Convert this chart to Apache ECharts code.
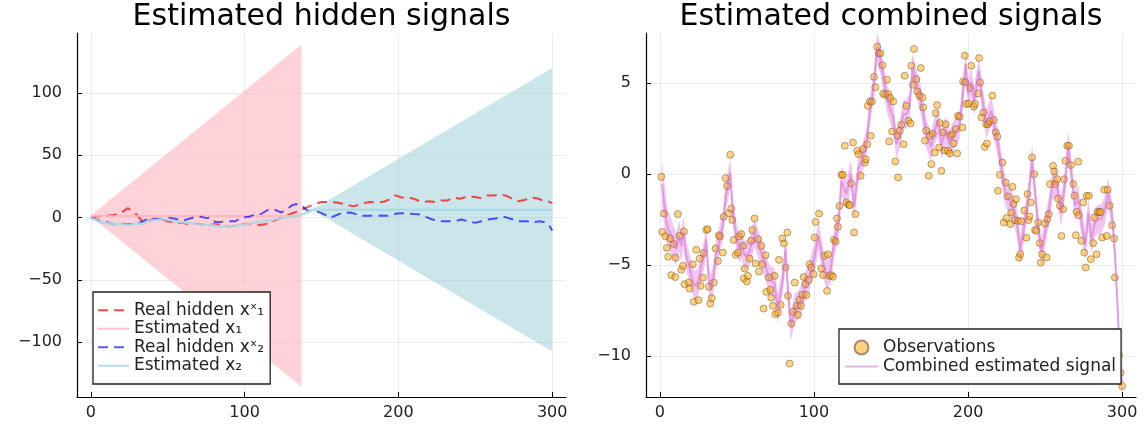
<!DOCTYPE html>
<html><head><meta charset="utf-8">
<script src="https://cdn.jsdelivr.net/npm/echarts@6/dist/echarts.min.js"></script>
<style>html,body{margin:0;padding:0;background:#fff}#c{width:1147px;height:427px}</style>
</head><body><div id="c"></div>
<script>
// ---------- left panel: hidden signals ----------
const hidden1X = [0,5,10,15,20,24,27,30,34,40,45,50,55,60,65,70,75,80,85,90,95,100,105,110,115,120,125,130,135,141,146,150,156,160,163,167,171,176,181,186,191,195,198,202,206,210,215,220,224,228,232,236,240,245,250,254,258,262,266,270,274,278,282,286,290,293,297,300];
const hidden1Y = [0,1,1.3,2,4,7.5,5,2,-3.8,-1.5,-1,-3,-4,-4.5,-5.5,-5,-6.5,-5.5,-6,-7,-6.5,-5,-5.5,-6,-5,-2,0,3,5,8.3,11,12.4,12.4,12,11.3,10,8.9,11,12.4,12,12.8,15,17.7,16,16.3,15,12.4,13,12.4,13.7,13.7,16,15,16.8,16.5,15.5,17.7,17.7,18.5,17.5,15,13,14,16,15.5,14,13,11.5];
const hidden2X = [0,3,6,10,15,20,26,32,37,43,48,50,55,59,64,68,72,75,78,81,85,88,94,98,103,107,111,115,120,124,128,131,135,137,141,146,150,156,160,163,169,176,182,188,193,199,203,206,211,215,218,222,228,234,238,241,245,250,254,258,263,269,273,278,283,288,292,295,298,300];
const hidden2Y = [0,-1.5,-2.7,-3.5,-5.4,-5,-5.4,-4,-1.3,-1,-1.3,0,-1,-2.7,-1,0.5,0.5,-0.5,0,-3.8,-3.5,-3,-3,0,0.5,2.7,3,6,6,4,7,10,11,9.5,5.4,5.4,3.5,0,2,3.5,4,1.3,1.3,1.5,1.3,3.2,3.5,3.2,2.7,2.2,0.5,-1.6,-3,-3,-2.5,-1.6,-3,-4.3,-3,-1.6,-0.8,0.5,-1,-3,-3,-3.8,-3,-3.8,-6,-10.5];
const est1X = [0,137];
const est1Y = [1.2,1.2];
const est2X = [0,3,6,10,15,20,26,30,34,37,42,48,53,59,65,70,75,80,85,90,94,98,103,107,111,115,120,124,128,133,137,141,144,300];
const est2Y = [0,-2,-3.8,-4.5,-5,-5.5,-6,-4.6,-5.5,-3,-2,-1.3,-2.5,-3.8,-4.5,-5.4,-5.8,-6.5,-7.5,-7,-6.8,-5.9,-5,-3.8,-3,-2.5,-1.5,-0.5,0,1.3,2.5,4,6.3,6.3];
const band1X = [0,137];
const band1Lo = [0.8,-135.7];
const band1Hi = [1.6,138.7];
const band2X = [144,300];
const band2Lo = [6.3,-107.6];
const band2Hi = [6.3,120];
const leftXTicks = [0,100,200,300];
const leftYTicks = [-100,-50,0,50,100];

// ---------- right panel: combined signal ----------
const obsT = [1,1.5,2.6,3.7,4.6,5.4,6.7,7.4,9,10,10.2,11.7,12.8,13.9,15,15.6,16,18.8,19.3,21.4,22,23.6,25,25.8,26.4,27.9,28.4,30.1,31,31.8,32.7,33.6,35,36.2,37.7,38.3,39,40.9,41.4,42.7,43.6,44.8,45.7,46.3,47,47.9,49.2,50.7,51.4,
52.8,53.9,54.5,55,56.5,57.2,58.2,59.3,60,61.5,62.1,63.7,64.3,65.8,66.5,67.3,68.6,69.1,70.8,71.7,72.3,73.4,74.5,75,76.6,77.3,78.4,79.5,80.6,81.6,82.7,83.1,84.2,85.3,86.4,87.5,89,89.6,90.7,91.5,92.5,93.3,94.4,95.1,96.6,97.2,98.3,99.8,100.4,101.1,103.3,104.8,105.9,107,108.5,109.1,110,111.3,112.4,113,114.1,115,115.6,116.5,
117.8,118.8,120,121,122.5,123.3,124.2,125.3,126,126.9,128,129,130.3,131.8,133,133.6,134.6,135,136.3,136.8,137.6,139,139.9,141,142,143.1,144.4,144.9,146.3,147.4,148.2,148.8,149.5,150.7,151.4,152.8,154.2,154.6,155.7,156.7,158.2,158.9,160,161.4,162.7,163.2,164.3,164.9,166.4,167.1,168.6,169.3,170.4,170.9,172,172.8,174.5,175.3,
176.2,177.1,178.4,179,180,181.2,181.6,182.7,183.8,184.9,185.5,187,188.1,188.5,189.8,190.7,192,192.9,193.5,194.6,196.4,196.8,197.9,198.2,198.8,200.4,201.4,202.1,203.7,204.5,206.5,207.2,207.9,208.7,210,210.8,211.7,212.3,212.8,213.8,215.8,216.7,218,219,219.4,220.6,222.3,223.2,224.5,225,225.8,227.5,228,228.9,229.5,230.3,231.1,232.5,233.1,233.9,234.7,236.5,237.9,238.6,239.3,239.9,240.7,241.6,242.9,243.5,244.4,245.5,246.5,247.2,248.1,249.9,251,251.5,252.4,253.2,255.2,255.9,256.7,257.8,258.5,259.6,260.6,261.7,262.4,263.2,264.4,265.5,266.8,268.3,269,269.9,270.4,271.5,271.9,273.6,274.7,275.4,276.4,277,278.4,279.7,281.2,281.9,283.4,284.1,285.2,286.2,287,288.4,290,290.6,291.9,293.5,294.8,295.3,298,299,300];
const obsY = [-0.15,-3.18,-2.17,-3.43,-4.06,-4.55,-3.54,-5.56,-3.84,-5.67,-4.6,-2.2,-3.4,-5.27,-5.05,-3.16,-6.06,-5.97,-6.3,-4.96,-7.03,-4.17,-6.94,-4.65,-6.15,-5.7,-4.35,-3.07,-3.03,-6.2,-7.13,-6.83,-5.97,-4.1,-4.78,-3.36,-3.43,-4.32,-2.35,-0.22,-0.66,-2.15,1.07,-1.9,-2.52,-3.62,-4.44,-4.32,-3.43,
-3.3,-3.95,-5.75,-5.2,-5.91,-5.6,-4.65,-3.67,-3.08,-2.44,-4.92,-3.58,-5.36,-3.95,-4.96,-7.4,-4.46,-6.48,-5.69,-6.37,-6.8,-7.25,-5.6,-7.71,-7.62,-4.72,-7.2,-3.54,-3.82,-5.14,-3.21,-6.7,-10.43,-8.23,-7.58,-5.97,-7.25,-7.75,-6.92,-7.25,-6.65,-5.66,-6.06,-6.65,-5.82,-4.96,-5.14,-5.51,-3.49,-2.63,-2.17,-5.2,-5.56,-4.5,-6.43,-4.41,-5.6,-5.56,-5.65,-3.62,-3.71,-2.44,-2.9,-1.76,
-0.04,-0.04,1.56,-1.56,-1.69,-1.71,-0.51,1.74,-3.21,-2.2,1.29,1.1,-0.09,1.38,0.64,0.82,1.65,3.76,4.0,2.11,4.0,5.36,4.78,7.02,6.65,6.65,6.0,4.44,4.37,5.2,4.41,1.8,4.19,2.35,4.0,0.7,2.11,-0.18,2.39,2.72,1.65,5.42,3.76,2.94,2.79,5.97,4.92,6.89,5.23,4.55,4.32,5.84,4.22,3.67,1.84,2.39,-0.09,2.11,
0.55,2.22,1.19,3.36,3.8,1.47,2.81,0.18,2.3,1.29,2.75,1.29,1.14,2.11,2.2,1.69,2.48,1.14,3.21,3.16,2.57,5.1,6.52,5.05,3.86,3.89,4.74,5.97,3.71,3.86,4.44,6.39,5.05,3.12,3.4,1.5,2.75,1.69,2.75,2.9,4.32,2.98,2.3,2.06,-0.92,-0.04,0.64,-2.66,-0.46,-2.42,-1.23,-2.75,-2.11,-0.7,-1.65,-2.53,-1.38,-2.57,-4.59,-4.4,-2.6,-2.0,-3.5,-1.1,-2.53,-2.33,-1.56,0.92,0,-3.07,-3.12,-2.66,-3.8,-4.87,-4.41,-2.72,-4.59,-2.48,-2.2,-0.55,0.46,0.15,-0.55,-0.28,-1.34,-1.74,-3.4,-1.93,-0.28,0.73,1.56,1.56,0.5,-0.55,-1.19,-3.36,-2.08,0.68,-2.26,-3.67,-1.56,-4.32,-5.14,-1.19,-1.19,-4.68,-3.8,-2.39,-4.41,-2.08,-2.1,-2.08,-3.49,-0.86,-3.4,-0.86,-1.74,-2.81,-3.54,-5.69,-9.97,-10.93,-11.66];
const sigT = [1.3,3,4.1,5.2,6.7,8.5,10.6,12.3,13.9,15.4,17.1,18.9,20.4,22.5,24.7,26.9,28.6,30.1,31.8,33.3,34.9,36.2,37.7,39.2,40.9,42.7,44.2,45.7,47,48.5,50,51.7,53,55,58,61.5,64,68,71,74.5,76.5,79.5,81.6,83,85,87.5,90.7,94,97,100,103,106,108.5,111,113,116,117.8,121,124,126,129,131,134,136,139,141,143,145,148,151.5,153.5,155.7,158,160,162,164,166,168.6,171,173,176,178.4,180.5,182.8,185.5,188,191,194.6,196.8,198.5,200,202,204,207,210,212,215,217.6,219.5,222,224,227,230,232.5,233.7,236,239,241.6,243.3,245.5,247.6,250,252.4,254.6,257.4,260.4,263,265,267,269.3,271.5,274,276.2,278,280,282.4,284.4,286.6,288.8,291,293.5,295.3,297,299,300];
const sigY = [-0.55,-1.74,-2.48,-3.03,-3.2,-3.67,-4.13,-3.4,-3.95,-3.2,-4.5,-5.05,-5.6,-6.15,-5.97,-5.05,-4.5,-3.58,-5.97,-6.34,-5.6,-4.5,-4.13,-3.4,-2.85,-1.19,-0.64,0.09,-1.74,-2.85,-3.58,-4.13,-3.8,-4.5,-4.3,-3.2,-3.9,-4.9,-5.8,-6.0,-7.4,-6.0,-4.1,-6.3,-8.4,-7.4,-7.1,-6.3,-5.6,-4.7,-3.4,-4.9,-5.6,-5.2,-3.8,-2.7,-0.37,-1.1,0,-1.8,0.37,0.73,1.65,3.3,4.96,6.98,6.4,5.3,4.0,3.1,1.65,2.2,3.3,3.3,3.67,5.9,5.1,4.4,3.3,2.2,1.5,2.4,2.9,1.65,2.4,1.65,2.2,2.75,4.6,6.06,4.4,5.1,4.0,5.7,3.67,2.75,3.5,2.4,1.65,0.18,-0.92,-1.47,-2.0,-3.1,-4.2,-3.1,-1.4,0.83,-0.83,-2.85,-4.3,-3.2,-2.1,-0.64,-0.46,-2.1,-0.46,1.56,0.09,-1.74,-1.38,-2.85,-3.95,-2.1,-3.6,-2.66,-2.48,-2.48,-1.93,-1.0,-2.3,-4.3,-7.25,-10.9,-11.5];
const sigW = [1.3,1.2,1.1,1.0,0.95,0.9,0.9,0.85,0.85,0.85,
0.8,0.8,0.8,0.8,0.8,0.8,0.8,0.8,0.8,0.8,
0.8,0.8,0.8,0.8,0.8,0.8,0.8,0.8,0.8,0.8,
0.8,0.8,0.8,0.8,0.8,0.8,0.8,0.8,0.8,0.8,
0.8,0.8,0.8,0.8,0.8,0.8,0.8,0.8,0.8,0.8,
0.8,0.8,0.8,0.8,0.8,0.8,0.8,0.8,0.8,0.8,
0.8,0.8,0.8,0.8,0.8,0.8,0.8,0.8,0.8,0.8,
0.8,0.8,0.8,0.8,0.8,0.8,0.8,0.8,0.8,0.8,
0.8,0.8,0.8,0.8,0.8,0.8,0.8,0.8,0.8,0.8,
0.8,0.8,0.8,0.8,0.8,0.8,0.8,0.8,0.8,0.8,
0.8,0.8,0.8,0.8,0.8,0.8,0.8,0.8,0.8,0.8,
0.8,0.8,0.8,0.8,0.8,0.8,0.8,0.8,0.8,0.8,
0.8,0.8,0.8,0.8,0.8,0.8,0.8,0.8,0.8,0.8,
0.8,0.8,0.8,0.8,0.8];
const rightXTicks = [0,100,200,300];
const rightYTicks = [-10,-5,0,5];

// ---------- chart ----------
const FONT = 'DejaVu Sans';
const chart = echarts.init(document.getElementById('c'));
const pairs = (xs, ys) => xs.map((x, i) => [x, ys[i]]);

function xAx(gi, ticks) {
  return { type: 'value', gridIndex: gi, min: -9, max: 309,
    axisLine: { show: true, onZero: false, lineStyle: { color: '#000', width: 1.2 } },
    axisTick: { show: true, inside: true, length: 5, customValues: ticks, lineStyle: { color: '#000', width: 1 } },
    axisLabel: { customValues: ticks, color: '#222', fontFamily: FONT, fontSize: 16, margin: 8 },
    splitLine: { show: false } };
}
function yAx(gi, min, max, ticks) {
  return { type: 'value', gridIndex: gi, min: min, max: max,
    axisLine: { show: true, onZero: false, lineStyle: { color: '#000', width: 1.2 } },
    axisTick: { show: true, inside: true, length: 5, customValues: ticks, lineStyle: { color: '#000', width: 1 } },
    axisLabel: { customValues: ticks, color: '#222', fontFamily: FONT, fontSize: 16, margin: 15,
      formatter: v => (v < 0 ? '\u2212' + Math.abs(v) : String(v)) },
    splitLine: { show: false } };
}
function gridLines(xt, yt) {
  return { silent: true, symbol: ['none', 'none'], z: 1, animation: false, label: { show: false },
    lineStyle: { color: 'rgba(0,0,0,0.08)', width: 1, type: 'solid' },
    data: xt.map(v => ({ xAxis: v })).concat(yt.map(v => ({ yAxis: v }))) };
}
// ribbon drawn as a polygon through the axis scales (api.coord)
function ribbon(name, gi, xs, lo, hi, color) {
  return { type: 'custom', name: name, xAxisIndex: gi, yAxisIndex: gi, silent: true, animation: false,
    data: [[xs[0], lo[0]]],
    renderItem: function (params, api) {
      const top = xs.map((x, i) => api.coord([x, hi[i]]));
      const bot = xs.map((x, i) => api.coord([x, lo[i]])).reverse();
      return { type: 'polygon', shape: { points: top.concat(bot) }, style: { fill: color } };
    } };
}
const noSym = { type: 'line', showSymbol: false, symbol: 'none', animation: false };
const hideSym = { opacity: 0 };

const option = {
  animation: false,
  grid: [
    { left: 77, top: 33, width: 489, height: 364 },
    { left: 646, top: 33, width: 490, height: 364 }
  ],
  xAxis: [xAx(0, leftXTicks), xAx(1, rightXTicks)],
  yAxis: [yAx(0, -144, 148, leftYTicks), yAx(1, -12.27, 7.77, rightYTicks)],
  graphic: [
    { type: 'text', x: 321.5, y: 17, style: { text: 'Estimated hidden signals', fontSize: 30, fontFamily: FONT, fill: '#000', align: 'center', verticalAlign: 'middle' } },
    { type: 'text', x: 891, y: 17, style: { text: 'Estimated combined signals', fontSize: 30, fontFamily: FONT, fill: '#000', align: 'center', verticalAlign: 'middle' } }
  ],
  legend: [
    { orient: 'vertical', left: 93, top: 292, padding: [9, 6, 9, 4], itemGap: 0, itemWidth: 31, itemHeight: 10,
      borderColor: '#222', borderWidth: 1.3, backgroundColor: '#fff',
      textStyle: { fontFamily: FONT, fontSize: 17, color: '#222', lineHeight: 18.5 },
      data: [
        { name: 'Real hidden x\u02E3\u2081', itemStyle: hideSym },
        { name: 'Estimated x\u2081', itemStyle: hideSym },
        { name: 'Real hidden x\u02E3\u2082', itemStyle: hideSym },
        { name: 'Estimated x\u2082', itemStyle: hideSym }
      ] },
    { orient: 'vertical', left: 839, top: 329, padding: [9, 5, 8, 5], itemGap: 0, itemWidth: 33, itemHeight: 14,
      borderColor: '#222', borderWidth: 1.3, backgroundColor: '#fff',
      textStyle: { fontFamily: FONT, fontSize: 17, color: '#222', lineHeight: 19 },
      data: [{ name: 'Observations', icon: 'circle' }, { name: 'Combined estimated signal', itemStyle: hideSym }] }
  ],
  series: [
    // left panel
    Object.assign({}, noSym, { name: 'Real hidden x\u02E3\u2081', xAxisIndex: 0, yAxisIndex: 0,
      data: pairs(hidden1X, hidden1Y), lineStyle: { color: 'rgba(255,0,0,0.7)', width: 2, type: [10, 6] },
      itemStyle: { color: 'rgba(255,0,0,0.7)' }, markLine: gridLines(leftXTicks, leftYTicks) }),
    ribbon('band1', 0, band1X, band1Lo, band1Hi, 'rgba(255,182,193,0.62)'),
    Object.assign({}, noSym, { name: 'Estimated x\u2081', xAxisIndex: 0, yAxisIndex: 0,
      data: pairs(est1X, est1Y), lineStyle: { color: 'rgba(255,182,193,0.85)', width: 2 },
      itemStyle: { color: 'rgba(255,182,193,0.85)' } }),
    Object.assign({}, noSym, { name: 'Real hidden x\u02E3\u2082', xAxisIndex: 0, yAxisIndex: 0,
      data: pairs(hidden2X, hidden2Y), lineStyle: { color: 'rgba(0,0,255,0.65)', width: 2, type: [10, 6] },
      itemStyle: { color: 'rgba(0,0,255,0.65)' } }),
    ribbon('band2', 0, band2X, band2Lo, band2Hi, 'rgba(150,205,215,0.5)'),
    Object.assign({}, noSym, { name: 'Estimated x\u2082', xAxisIndex: 0, yAxisIndex: 0,
      data: pairs(est2X, est2Y), lineStyle: { color: 'rgba(173,216,230,0.9)', width: 2.5 },
      itemStyle: { color: 'rgba(173,216,230,0.9)' } }),
    // right panel
    { type: 'scatter', name: 'Observations', xAxisIndex: 1, yAxisIndex: 1, animation: false,
      data: pairs(obsT, obsY), symbolSize: 7,
      itemStyle: { color: 'rgba(255,165,0,0.62)', borderColor: 'rgba(60,40,20,0.6)', borderWidth: 0.8 },
      markLine: gridLines(rightXTicks, rightYTicks) },
    ribbon('sigband', 1, sigT, sigY.map((y, i) => y - sigW[i]), sigY.map((y, i) => y + sigW[i]), 'rgba(218,112,214,0.4)'),
    Object.assign({}, noSym, { name: 'Combined estimated signal', xAxisIndex: 1, yAxisIndex: 1,
      data: pairs(sigT, sigY), lineStyle: { color: 'rgba(218,112,214,0.55)', width: 2 },
      itemStyle: { color: 'rgba(218,112,214,0.55)' } })
  ]
};
chart.setOption(option);
</script></body></html>
